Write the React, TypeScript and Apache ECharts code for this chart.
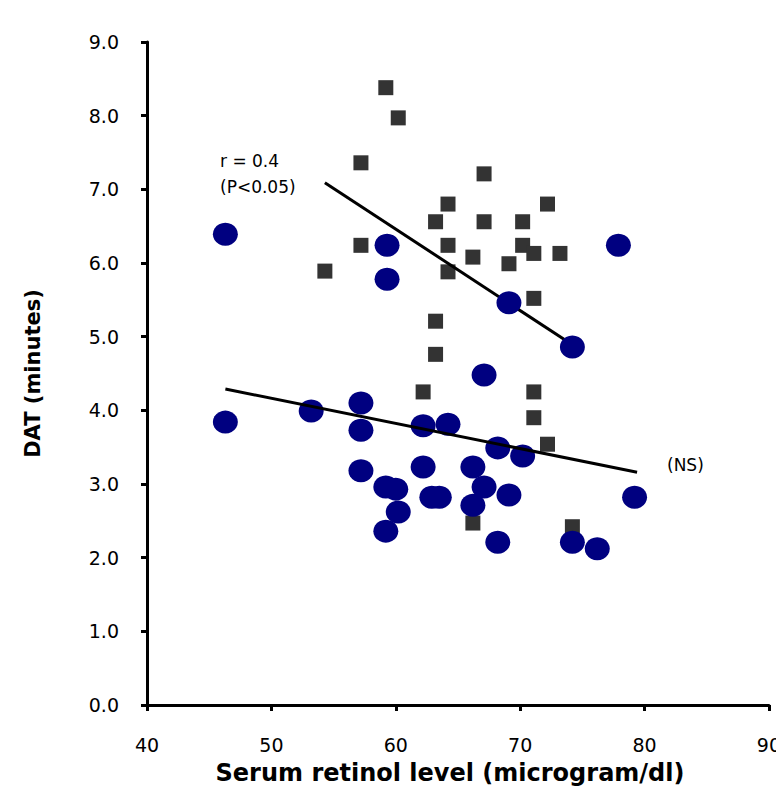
import React, { useEffect, useRef } from "react";
import * as echarts from "echarts";

const xTicks = [40, 50, 60, 70, 80, 90];
const yTicks = [0, 1, 2, 3, 4, 5, 6, 7, 8, 9];

// Squares (dark grey)
const squarePoints: [number, number][] = [
  [59.2, 8.38], [60.2, 7.97], [57.2, 7.36], [67.1, 7.21],
  [64.2, 6.8], [72.2, 6.8], [63.2, 6.56], [67.1, 6.56], [70.2, 6.56],
  [57.2, 6.24], [64.2, 6.24], [70.2, 6.24], [54.3, 5.89], [66.2, 6.08],
  [71.1, 6.13], [73.2, 6.13], [69.1, 5.99], [64.2, 5.88], [71.1, 5.52],
  [63.2, 5.21], [63.2, 4.76], [62.2, 4.25], [71.1, 4.25], [71.1, 3.9],
  [72.2, 3.54], [66.2, 2.47], [74.2, 2.42],
];

// Circles (navy)
const circlePoints: [number, number][] = [
  [46.3, 6.39], [46.3, 3.84], [53.2, 3.99], [59.3, 6.24], [59.3, 5.78],
  [77.9, 6.24], [69.1, 5.46], [74.2, 4.86], [67.1, 4.48],
  [57.2, 4.1], [57.2, 3.73], [62.2, 3.79], [64.2, 3.81], [68.2, 3.49],
  [70.2, 3.38], [57.2, 3.18], [62.2, 3.23], [66.2, 3.23], [59.2, 2.96],
  [60.0, 2.93], [62.9, 2.82], [63.5, 2.82], [67.1, 2.96], [66.2, 2.71],
  [69.1, 2.85], [60.2, 2.62], [59.2, 2.36], [68.2, 2.21], [74.2, 2.21],
  [79.2, 2.82], [76.2, 2.12],
];

const upperLine: [number, number][] = [[54.3, 7.09], [74.2, 4.89]];
const lowerLine: [number, number][] = [[46.3, 4.29], [79.4, 3.16]];

const FONT = "DejaVu Sans, Verdana, sans-serif";

export default function App() {
  const ref = useRef<HTMLDivElement>(null);
  useEffect(() => {
    if (!ref.current) return;
    const chart = echarts.init(ref.current, null, { renderer: "svg" });
    const axisLine = { show: true, lineStyle: { color: "#000", width: 3 } };
    chart.setOption({
      animation: false,
      backgroundColor: "#fff",
      grid: { left: 147, right: 7, top: 42, bottom: 89 },
      xAxis: {
        type: "value",
        min: xTicks[0],
        max: xTicks[xTicks.length - 1],
        interval: 10,
        axisLine,
        axisTick: { show: true, length: 6, lineStyle: { color: "#000", width: 3 } },
        splitLine: { show: false },
        axisLabel: { color: "#000", fontSize: 19, fontFamily: FONT, margin: 30 },
      },
      yAxis: {
        type: "value",
        min: yTicks[0],
        max: yTicks[yTicks.length - 1],
        interval: 1,
        axisLine,
        axisTick: { show: true, length: 6, lineStyle: { color: "#000", width: 3 } },
        splitLine: { show: false },
        axisLabel: {
          color: "#000",
          fontSize: 19,
          fontFamily: FONT,
          margin: 28,
          formatter: (v: number) => v.toFixed(1),
        },
        name: "DAT (minutes)",
        nameLocation: "middle",
        nameGap: 104,
        nameTextStyle: { color: "#000", fontSize: 21, fontWeight: "bold", fontFamily: FONT },
      },
      series: [
        {
          type: "scatter",
          data: squarePoints,
          symbol: "rect",
          symbolSize: 15,
          itemStyle: { color: "#333333", opacity: 1 },
          z: 2,
        },
        {
          type: "line",
          data: upperLine,
          symbol: "none",
          lineStyle: { color: "#000", width: 3 },
          z: 3,
        },
        {
          type: "scatter",
          data: circlePoints,
          symbol: "circle",
          symbolSize: [25, 23],
          itemStyle: { color: "#000080", opacity: 1 },
          z: 4,
        },
        {
          type: "line",
          data: lowerLine,
          symbol: "none",
          lineStyle: { color: "#000", width: 3 },
          z: 5,
        },
      ],
      graphic: [
        {
          type: "text",
          x: 450,
          y: 773,
          style: {
            text: "Serum retinol level (microgram/dl)",
            fontSize: 24,
            fontWeight: "bold",
            fill: "#000",
            fontFamily: FONT,
            align: "center",
            verticalAlign: "middle",
          },
        },
        { type: "text", x: 220, y: 161, style: { text: "r = 0.4", fontSize: 17, fill: "#000", fontFamily: FONT, verticalAlign: "middle" } },
        { type: "text", x: 220, y: 187, style: { text: "(P<0.05)", fontSize: 17, fill: "#000", fontFamily: FONT, verticalAlign: "middle" } },
        { type: "text", x: 667, y: 465, style: { text: "(NS)", fontSize: 17, fill: "#000", fontFamily: FONT, verticalAlign: "middle" } },
      ],
    });
    return () => chart.dispose();
  }, []);
  return <div ref={ref} style={{ width: 784, height: 794, margin: -8 }} />;
}
